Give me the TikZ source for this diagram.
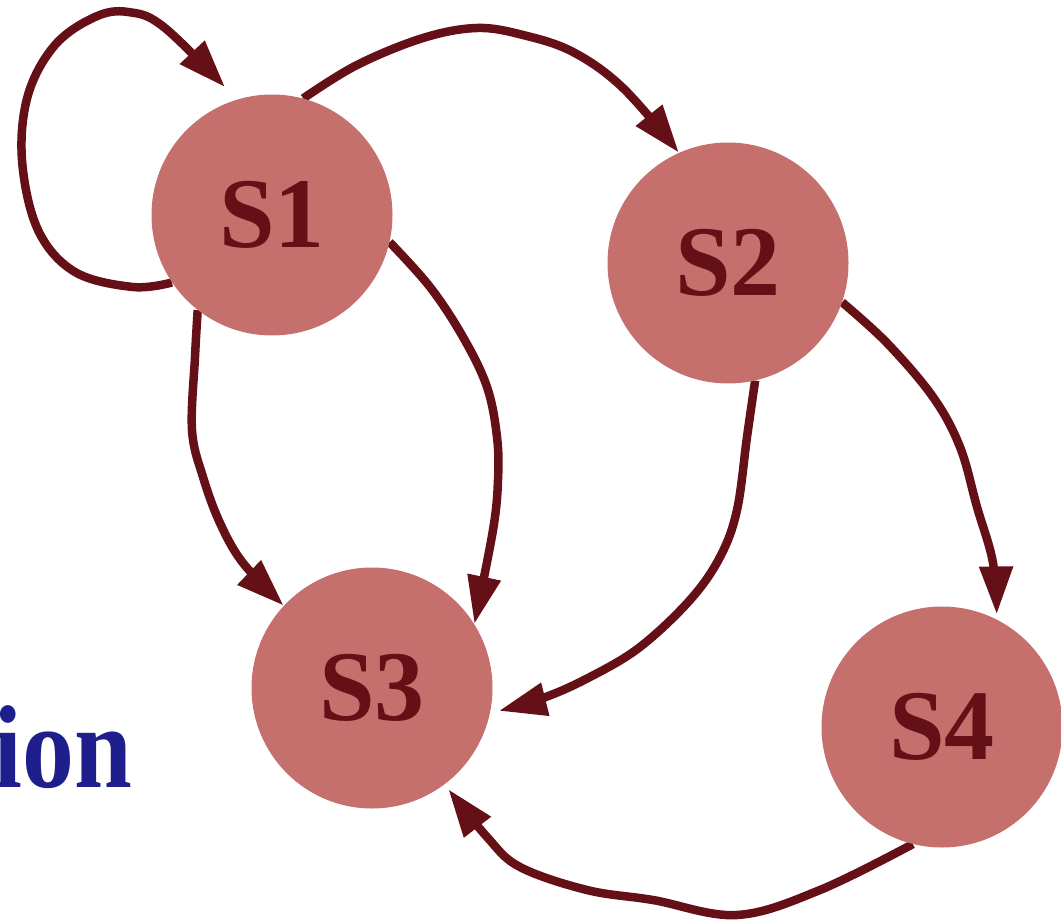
\documentclass[tikz,border=0pt]{standalone}
\usepackage{fontspec}
\setmainfont{Liberation Serif}
\usetikzlibrary{arrows.meta}
\pgfdeclarelayer{back}
\pgfsetlayers{back,main}
\definecolor{statefill}{HTML}{C6706E}
\definecolor{wine}{HTML}{650F17}
\definecolor{navy}{HTML}{1E1E8C}
\begin{document}
\begin{tikzpicture}[x=1pt,y=-1pt,
  state/.style={circle,fill=statefill,minimum size=241pt,inner sep=0pt,
    text=wine,font=\fontsize{100}{100}\selectfont\bfseries},
  trans/.style={draw=wine,line width=8.5pt,line join=round,
    -{Triangle[length=48pt,width=32pt]}},
  curve/.style={smooth,tension=0.6}]
\useasboundingbox (0,0) rectangle (1061,921);

% states
\node[state] (S1) at (272,215) {S1};
\node[state] (S2) at (728,263) {S2};
\node[state] (S3) at (372,688) {S3};
\node[state] (S4) at (942,727) {S4};

% partly visible caption word
\node[anchor=base east,inner sep=0pt,text=navy,xscale=0.88,
  font=\fontsize{118}{118}\selectfont\bfseries] (tag) at (132,787) {ion};

% transitions, drawn behind the states
\begin{pgfonlayer}{back}
\draw[trans,shorten >=17pt] plot[curve] coordinates {(S1.214) (133,287) (75,272) (38,230) (22,160) (28,95) (55,45) (95,17) (128,12) (165,28) (S1.107)};
\draw[trans] plot[curve] coordinates {(S1.75) (357,65) (423,38) (477,28) (523,35) (573,52) (623,88) (S2.114)};
\draw[trans] plot[curve] coordinates {(S1.232) (195,357) (192,430) (203,477) (220,523) (243,563) (S3.137)};
\draw[trans] plot[curve] coordinates {(S1.347) (430,287) (463,337) (487,387) (497,437) (498,480) (493,530) (S3.32)};
\draw[trans,shorten >=9pt] plot[curve] coordinates {(S2.283) (747,437) (737,510) (720,557) (690,600) (640,647) (590,677) (543,698) (S3.348)};
\draw[trans,shorten >=5pt] plot[curve] coordinates {(S2.341) (887,343) (933,397) (960,447) (977,507) (993,563) (S4.63)};
\draw[trans,shorten >=6pt] plot[curve] coordinates {(S4.256) (820,890) (737,915) (653,900) (587,890) (520,867) (487,837) (S3.307)};
\end{pgfonlayer}
\end{tikzpicture}
\end{document}
